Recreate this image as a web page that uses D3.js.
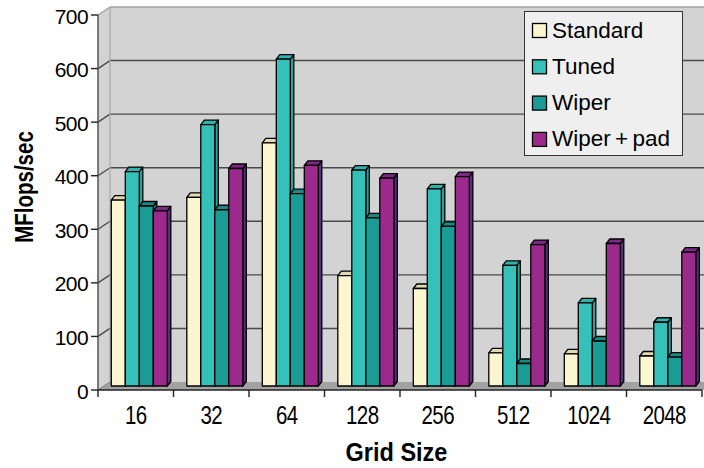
<!DOCTYPE html>
<html>
<head>
<meta charset="utf-8">
<script src="https://cdn.jsdelivr.net/npm/d3@7"></script>
<style>
  html, body { margin: 0; padding: 0; background: #fff; }
  svg { display: block; font-family: "Liberation Sans", Arial, sans-serif; }
</style>
</head>
<body>
<svg id="chart" width="704" height="468"></svg>
<script>
// Grid sizes on the category axis
const gridSizes = ["16", "32", "64", "128", "256", "512", "1024", "2048"];
// Series names shown in the legend
const seriesNames = ["Standard", "Tuned", "Wiper", "Wiper + pad"];
// MFlops/sec per grid size, one array per series
const standard = [347, 352, 454, 206, 182, 62, 60, 56];
const tuned    = [400, 488, 610, 403, 368, 225, 155, 119];
const wiper    = [336, 329, 359, 314, 298, 42, 84, 54];
const wiperPad = [327, 406, 412, 388, 391, 264, 266, 250];
// Value axis ticks
const yTicks = [0, 100, 200, 300, 400, 500, 600, 700];

const seriesValues = [standard, tuned, wiper, wiperPad];
const faceColors = [
  { front: "#FBF5D0", top: "#E4DAB2", side: "#D6CCA6" },
  { front: "#35C1B9", top: "#2FB2AA", side: "#29A29B" },
  { front: "#1A9B93", top: "#178A83", side: "#137E78" },
  { front: "#9B2A8C", top: "#7A2A84", side: "#5A2D80" }
];

const svg = d3.select("#chart");

// Front plane of the 3-D box
const left = 98, right = 702;
const y = d3.scaleLinear().domain([0, 700]).range([390, 15]);
const x0 = d3.scaleBand().domain(gridSizes).range([left, right]).padding(0);
const x1 = d3.scaleBand().domain(seriesNames).range([7.3, 63.3]).padding(0);

// Depth offsets: walls, bar placement inside the box, bar thickness
const WX = 12, WY = -8;
const BX = 6, BY = -4;
const DX = 3.5, DY = -4.5;

const g = svg.append("g");

// Back wall, side wall and floor
const wallRight = 720;
g.append("polygon")
  .attr("points", [[left + WX, y(700) + WY], [wallRight, y(700) + WY], [wallRight, y(0) + WY], [left + WX, y(0) + WY]].join(" "))
  .attr("fill", "#D3D3D3");
g.append("polygon")
  .attr("points", [[left, y(700)], [left + WX, y(700) + WY], [left + WX, y(0) + WY], [left, y(0)]].join(" "))
  .attr("fill", "#D3D3D3");
g.append("polygon")
  .attr("points", [[left, y(0)], [left + WX, y(0) + WY], [wallRight, y(0) + WY], [wallRight - WX, y(0)]].join(" "))
  .attr("fill", "#A2A2A2");

// Gridlines on back and side walls
yTicks.filter(v => v > 0).forEach(v => {
  const col = v === 700 ? "#A0A0A0" : "#4A4A4A";
  g.append("line")
    .attr("x1", left + WX).attr("x2", wallRight)
    .attr("y1", y(v) + WY).attr("y2", y(v) + WY)
    .attr("stroke", col).attr("stroke-width", 1.4);
  g.append("line")
    .attr("x1", left).attr("x2", left + WX)
    .attr("y1", y(v)).attr("y2", y(v) + WY)
    .attr("stroke", col).attr("stroke-width", 1.4);
});
// Back wall left edge
g.append("line")
  .attr("x1", left + WX).attr("x2", left + WX)
  .attr("y1", y(700) + WY).attr("y2", y(0) + WY)
  .attr("stroke", "#A8A8A8").attr("stroke-width", 1.2);
// Floor back edge diagonal at the origin
g.append("line")
  .attr("x1", left).attr("x2", left + WX)
  .attr("y1", y(0)).attr("y2", y(0) + WY)
  .attr("stroke", "#8A8A8A").attr("stroke-width", 1.2);

// Bars drawn as boxes: front face, top and right side
const bars = g.append("g");
gridSizes.forEach((cat, ci) => {
  seriesNames.forEach((s, si) => {
    const v = seriesValues[si][ci];
    const xa = x0(cat) + BX + x1(s);
    const xb = xa + x1.bandwidth();
    const yt = y(v) + BY;
    const yb = y(0) + BY;
    const c = faceColors[si];
    const bg = bars.append("g")
      .attr("stroke", "#000").attr("stroke-width", 1.3).attr("stroke-linejoin", "round");
    bg.append("polygon")
      .attr("points", [[xb, yt], [xb + DX, yt + DY], [xb + DX, yb + DY], [xb, yb]].join(" "))
      .attr("fill", c.side);
    bg.append("polygon")
      .attr("points", [[xa, yt], [xa + DX, yt + DY], [xb + DX, yt + DY], [xb, yt]].join(" "))
      .attr("fill", c.top);
    bg.append("rect")
      .attr("x", xa).attr("y", yt)
      .attr("width", xb - xa).attr("height", yb - yt)
      .attr("fill", c.front);
  });
});

// Value axis
const yAxis = g.append("g");
yAxis.append("line")
  .attr("x1", left).attr("x2", left)
  .attr("y1", y(700)).attr("y2", y(0))
  .attr("stroke", "#555").attr("stroke-width", 1.5);
yTicks.forEach(v => {
  yAxis.append("line")
    .attr("x1", left - 7).attr("x2", left)
    .attr("y1", y(v)).attr("y2", y(v))
    .attr("stroke", "#222").attr("stroke-width", 1.4);
  yAxis.append("text")
    .attr("x", 88).attr("y", y(v) + 8.5)
    .attr("text-anchor", "end")
    .attr("font-size", 21)
    .attr("letter-spacing", -0.6)
    .attr("fill", "#000")
    .text(v);
});

// Category axis
const xAxis = g.append("g");
xAxis.append("line")
  .attr("x1", left).attr("x2", right)
  .attr("y1", y(0)).attr("y2", y(0))
  .attr("stroke", "#222").attr("stroke-width", 1.5);
gridSizes.concat([null]).forEach(cat => {
  const xt = cat === null ? right : x0(cat);
  xAxis.append("line")
    .attr("x1", xt).attr("x2", xt)
    .attr("y1", y(0)).attr("y2", y(0) + 7)
    .attr("stroke", "#222").attr("stroke-width", 1.4);
});
gridSizes.forEach(cat => {
  xAxis.append("text")
    .attr("transform", `translate(${x0(cat) + x0.bandwidth() / 2},424) scale(1,1.25)`)
    .attr("text-anchor", "middle")
    .attr("font-size", 20.5)
    .attr("letter-spacing", -0.6)
    .attr("fill", "#000")
    .text(cat);
});

// Axis titles
svg.append("text")
  .attr("transform", "translate(396.5,461) scale(1,1.07)")
  .attr("text-anchor", "middle")
  .attr("font-size", 23.5)
  .attr("font-weight", "bold")
  .text("Grid Size");
svg.append("text")
  .attr("transform", "translate(33,187) rotate(-90) scale(1,1.3)")
  .attr("text-anchor", "middle")
  .attr("font-size", 20.5)
  .attr("font-weight", "bold")
  .text("MFlops/sec");

// Legend
const legend = svg.append("g");
legend.append("rect")
  .attr("x", 524.5).attr("y", 11.5)
  .attr("width", 158).attr("height", 144)
  .attr("fill", "#EFEFEF").attr("stroke", "#333").attr("stroke-width", 1);
seriesNames.forEach((s, i) => {
  const ry = 23.5 + i * 36.3;
  legend.append("rect")
    .attr("x", 532.5).attr("y", ry)
    .attr("width", 14).attr("height", 14)
    .attr("fill", faceColors[i].front)
    .attr("stroke", "#000").attr("stroke-width", 1.3);
  legend.append("text")
    .attr("x", 552).attr("y", ry + 14)
    .attr("font-size", 22.5)
    .attr("word-spacing", -2)
    .attr("fill", "#000")
    .text(s);
});
</script>
</body>
</html>
